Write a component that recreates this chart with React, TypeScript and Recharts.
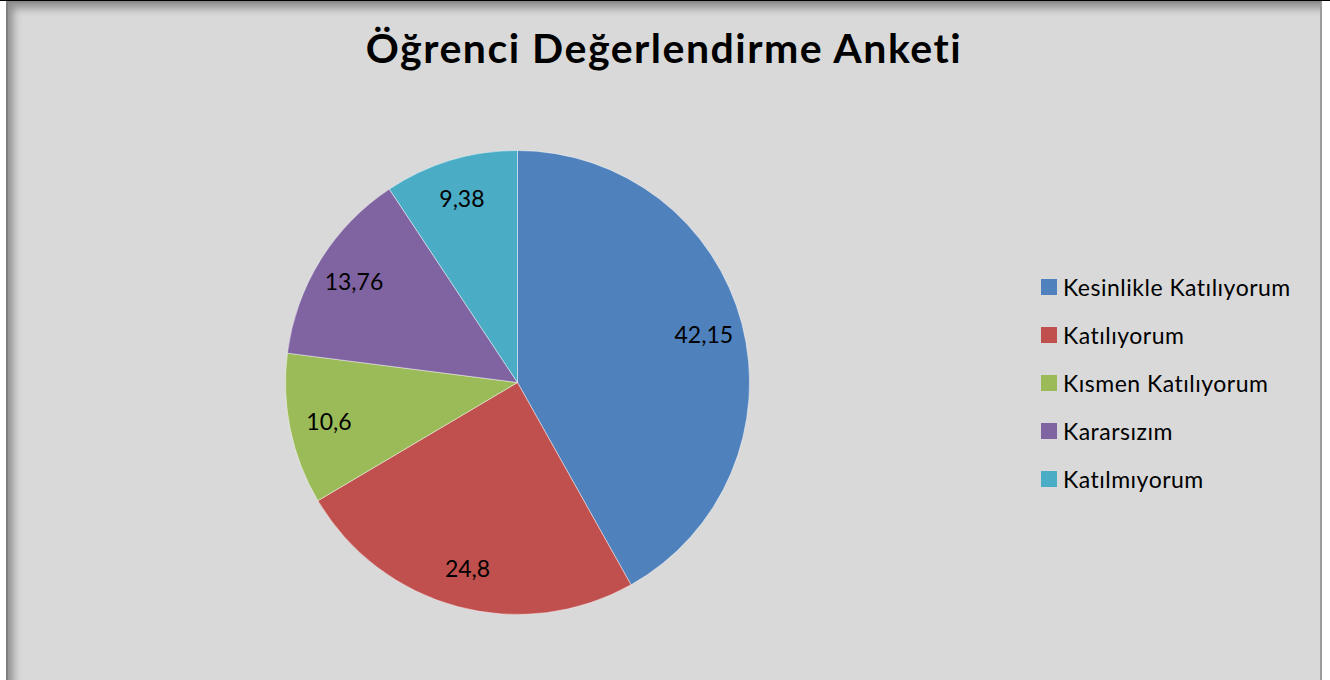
import React from "react";
import { PieChart, Pie, Cell, Legend } from "recharts";

const categories = [
  "Kesinlikle Katılıyorum",
  "Katılıyorum",
  "Kısmen Katılıyorum",
  "Kararsızım",
  "Katılmıyorum",
];
const values = [42.15, 24.8, 10.6, 13.76, 9.38];
const valueLabels = ["42,15", "24,8", "10,6", "13,76", "9,38"];
const colors = ["#4f81bd", "#c0504d", "#9bbb59", "#8064a2", "#4bacc6"];
const title = "Öğrenci Değerlendirme Anketi";

const data = categories.map((name, i) => ({
  name,
  value: values[i],
  label: valueLabels[i],
}));

const FONT = "Lato, 'Noto Sans', sans-serif";
const RAD = Math.PI / 180;

const renderLabel = (props: any) => {
  const { cx, cy, midAngle, outerRadius, index } = props;
  const r = outerRadius * 0.83;
  const x = cx + r * Math.cos(-midAngle * RAD);
  const y = cy + r * Math.sin(-midAngle * RAD);
  return (
    <text
      x={x}
      y={y}
      fill="#000"
      textAnchor="middle"
      dominantBaseline="central"
      fontFamily={FONT}
      fontSize={23}
    >
      {valueLabels[index]}
    </text>
  );
};

const LegendContent = () => {
  return (
    <div
      style={{
        fontFamily: FONT,
        fontSize: 23,
        letterSpacing: 0.5,
        color: "#000",
      }}
    >
      {categories.map((name, i) => (
        <div
          key={name}
          style={{ height: 48, display: "flex", alignItems: "center" }}
        >
          <span
            style={{
              display: "inline-block",
              width: 16,
              height: 16,
              background: colors[i],
              marginRight: 6,
              flex: "none",
            }}
          />
          <span>{name}</span>
        </div>
      ))}
    </div>
  );
};

export default function App() {
  return (
    <div
      style={{
        position: "absolute",
        left: 0,
        top: 0,
        width: 1330,
        height: 680,
        background: "#fff",
        overflow: "hidden",
      }}
    >
      <div
        style={{
          position: "absolute",
          left: 0,
          top: 0,
          width: 1330,
          height: 1,
          background: "#000",
        }}
      />
      <div
        style={{
          position: "absolute",
          left: 6,
          top: 1,
          width: 1316,
          height: 690,
          background: "#d9d9d9",
          boxSizing: "border-box",
          borderRight: "2px solid #9a9a9a",
          borderTop: "2px solid #8a8a8a",
          borderLeft: "2px solid #7f7f7f",
          boxShadow: "inset 7px 7px 8px -2px rgba(0,0,0,0.35)",
        }}
      />
      <div
        style={{
          position: "absolute",
          left: 6,
          top: 1,
          width: 1316,
          height: 679,
        }}
      >
        <div
          style={{
            position: "absolute",
            left: 0,
            top: 24,
            width: 1316,
            textAlign: "center",
            fontFamily: FONT,
            fontWeight: 700,
            fontSize: 41,
            letterSpacing: 1.5,
            lineHeight: "46px",
            color: "#000",
          }}
        >
          {title}
        </div>
        <PieChart
          width={1316}
          height={679}
          margin={{ top: 0, right: 0, bottom: 0, left: 0 }}
        >
          <Pie
            data={data}
            dataKey="value"
            nameKey="name"
            cx={511.5}
            cy={381.5}
            outerRadius={232}
            startAngle={90}
            endAngle={-270}
            stroke="rgba(255,255,255,0.45)"
            strokeWidth={1}
            label={renderLabel}
            labelLine={false}
            isAnimationActive={false}
          >
            {data.map((d, i) => (
              <Cell key={d.name} fill={colors[i]} />
            ))}
          </Pie>
          <Legend
            layout="vertical"
            content={<LegendContent />}
            wrapperStyle={{
              position: "absolute",
              left: 1035,
              top: 262,
              width: 280,
            }}
          />
        </PieChart>
      </div>
    </div>
  );
}
